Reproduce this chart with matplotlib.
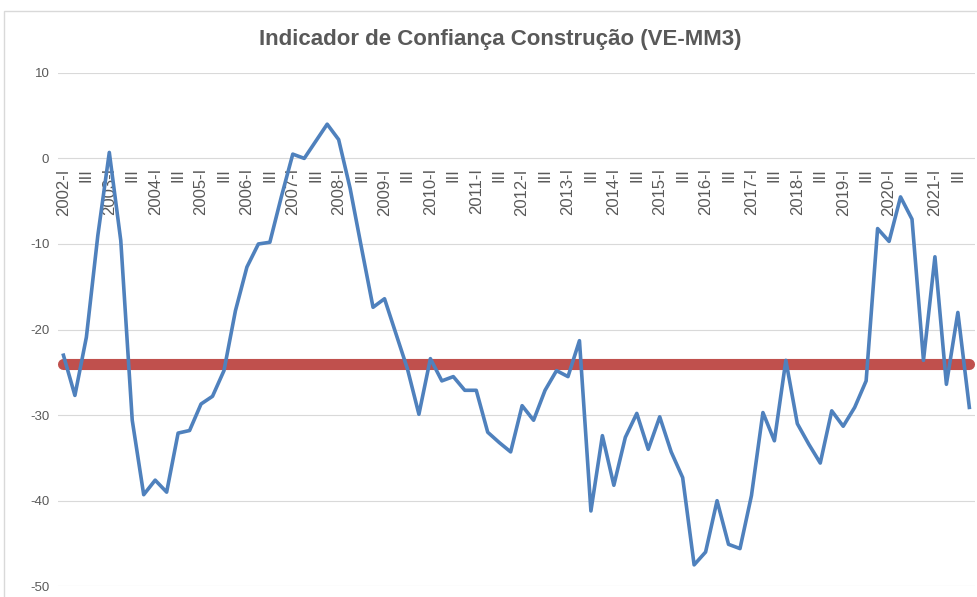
import matplotlib
matplotlib.use("Agg")
import matplotlib.pyplot as plt
from matplotlib.patches import Rectangle

plt.rcParams['font.family'] = ['Liberation Sans', 'DejaVu Sans']
plt.rcParams['axes.unicode_minus'] = False

# quarterly series, 2002-I .. 2021-IV
years = list(range(2002, 2022))
quarters = ["I", "II", "III", "IV"]
values = [-23.0, -27.7, -20.9, -9.0, 0.7, -9.6, -30.6, -39.3, -37.6, -39.0,
          -32.1, -31.8, -28.7, -27.8, -24.8, -17.8, -12.7, -10.0, -9.8, -4.5,
          0.5, 0.0, 2.0, 4.0, 2.2, -3.5, -10.5, -17.4, -16.4, -20.5,
          -24.6, -29.9, -23.4, -26.0, -25.5, -27.1, -27.1, -32.0, -33.2, -34.3,
          -28.9, -30.6, -27.1, -24.8, -25.5, -21.3, -41.2, -32.4, -38.2, -32.6,
          -29.8, -34.0, -30.2, -34.3, -37.3, -47.5, -46.0, -40.0, -45.1, -45.6,
          -39.4, -29.7, -33.0, -23.6, -31.0, -33.4, -35.6, -29.5, -31.3, -29.1,
          -26.0, -8.2, -9.7, -4.5, -7.1, -23.6, -11.5, -26.4, -18.0, -29.1]
average = -24.0

labels = []
for y in years:
    for q in quarters:
        if q == "I":
            labels.append(f"{y}-I")
        elif q == "III":
            labels.append("III")
        else:
            labels.append("")

x = list(range(len(values)))
grey = "#595959"

fig = plt.figure(figsize=(9.78, 5.97), dpi=100)
ax = fig.add_axes([0.059, 0.018, 0.938, 0.860])

ax.plot(x, [average] * len(x), color="#C0504D", lw=8, solid_capstyle="round", zorder=3)
ax.plot(x, values, color="#4F81BD", lw=2.6, zorder=4)

ax.set_ylim(-50, 10)
ax.set_xlim(-0.5, len(x) - 0.5)
ax.set_yticks(range(-50, 11, 10))
ax.yaxis.grid(True, color="#D9D9D9", lw=0.8)
ax.set_axisbelow(True)

for s in ["top", "right", "left"]:
    ax.spines[s].set_visible(False)
ax.spines["bottom"].set_position(("data", 0))
ax.spines["bottom"].set_visible(False)

tick_pos = [i for i, l in enumerate(labels) if l]
ax.set_xticks(tick_pos)
ax.set_xticklabels([labels[i] for i in tick_pos], rotation=90, va="top", ha="center")
ax.tick_params(axis="x", length=0, pad=7, labelsize=12, labelcolor=grey)
ax.tick_params(axis="y", length=0, pad=6, labelsize=9.5, labelcolor=grey)

fig.text(0.512, 0.933, "Indicador de Confiança Construção (VE-MM3)",
         ha="center", va="center", fontsize=16, fontweight="bold", color=grey)

fig.patches.append(Rectangle((0.004, -0.1), 1.2, 1.082, transform=fig.transFigure,
                             fill=False, edgecolor="#D9D9D9", lw=1))

fig.savefig("out.png", dpi=100)
